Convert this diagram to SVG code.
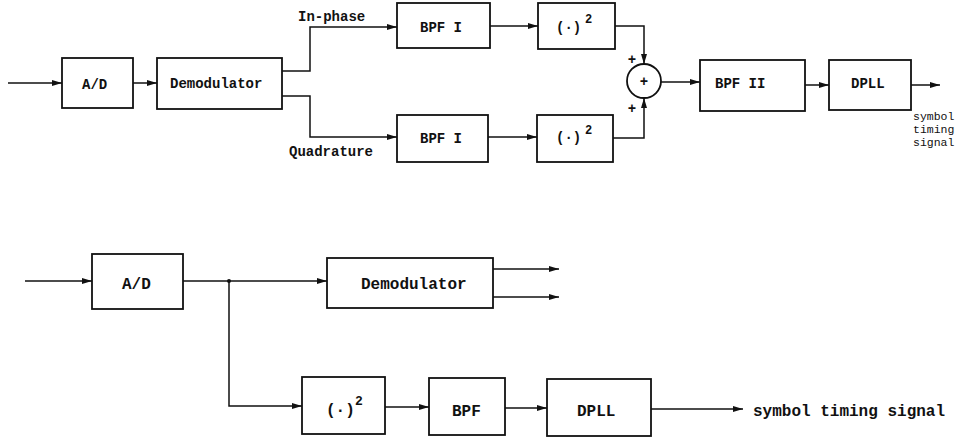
<svg xmlns="http://www.w3.org/2000/svg" width="967" height="441" viewBox="0 0 967 441">
<style>
.box{fill:none;stroke:#111;stroke-width:1.8}
.ln{fill:none;stroke:#111;stroke-width:1.5}
.t{font-family:"Liberation Mono","DejaVu Sans Mono",monospace;font-size:14px;font-weight:bold;fill:#111}
.tb{font-family:"Liberation Mono","DejaVu Sans Mono",monospace;font-size:16px;font-weight:bold;fill:#111}
.ts{font-family:"Liberation Mono","DejaVu Sans Mono",monospace;font-size:11.5px;fill:#111}
.sup{font-size:12px}
</style>
<defs>
<marker id="ah" viewBox="0 0 10 6" refX="10" refY="3" markerWidth="10" markerHeight="6" markerUnits="userSpaceOnUse" orient="auto">
<path d="M0,0 L10,3 L0,6 z" fill="#111"/>
</marker>
</defs>
<rect width="967" height="441" fill="#fff"/>

<!-- Top diagram nodes -->
<g id="top-ad"><rect class="box" x="62" y="58" width="71" height="50"/><text class="t" x="82" y="89">A/D</text></g>
<g id="top-demod"><rect class="box" x="157" y="58" width="125" height="51"/><text class="t" x="170" y="88">Demodulator</text></g>
<g id="top-bpf1a"><rect class="box" x="397" y="3" width="93" height="45"/><text class="t" x="420" y="32">BPF I</text></g>
<g id="top-bpf1b"><rect class="box" x="397" y="115" width="91" height="47"/><text class="t" x="420" y="143">BPF I</text></g>
<g id="top-sqa"><rect class="box" x="538" y="3" width="77" height="46"/><text class="t" x="556" y="32">(·)</text><text class="t sup" x="585" y="23">2</text></g>
<g id="top-sqb"><rect class="box" x="537" y="115" width="76" height="47"/><text class="t" x="556" y="142">(·)</text><text class="t sup" x="585" y="134">2</text></g>
<g id="top-sum"><circle class="box" cx="644" cy="81" r="17"/><text class="t" x="644" y="86" text-anchor="middle">+</text></g>
<g id="top-bpf2"><rect class="box" x="700" y="60" width="105" height="51"/><text class="t" x="715" y="88">BPF II</text></g>
<g id="top-dpll"><rect class="box" x="829" y="60" width="82" height="50"/><text class="t" x="851" y="88">DPLL</text></g>

<!-- Bottom diagram nodes -->
<g id="bot-ad"><rect class="box" x="92" y="254" width="91" height="55"/><text class="tb" x="122" y="289">A/D</text></g>
<g id="bot-demod"><rect class="box" x="327" y="258" width="166" height="50"/><text class="tb" x="361" y="289">Demodulator</text></g>
<g id="bot-sq"><rect class="box" x="302" y="377" width="83" height="57"/><text class="tb" x="326" y="415">(·)</text><text class="tb sup" x="355" y="405" style="font-size:13px">2</text></g>
<g id="bot-bpf"><rect class="box" x="429" y="378" width="76" height="57"/><text class="tb" x="452" y="416">BPF</text></g>
<g id="bot-dpll"><rect class="box" x="547" y="379" width="104" height="57"/><text class="tb" x="577" y="416">DPLL</text></g>

<!-- Connectors -->
<g id="connectors">
<line class="ln" x1="8" y1="83" x2="62" y2="83" marker-end="url(#ah)"/>
<line class="ln" x1="133" y1="83" x2="157" y2="83" marker-end="url(#ah)"/>
<polyline class="ln" points="282,71 310,71 310,27 397,27" marker-end="url(#ah)"/>
<polyline class="ln" points="282,96 310,96 310,137 397,137" marker-end="url(#ah)"/>
<line class="ln" x1="490" y1="26" x2="538" y2="26" marker-end="url(#ah)"/>
<line class="ln" x1="488" y1="137" x2="537" y2="137" marker-end="url(#ah)"/>
<polyline class="ln" points="615,26 644,26 644,64" marker-end="url(#ah)"/>
<polyline class="ln" points="613,138 644,138 644,98" marker-end="url(#ah)"/>
<line class="ln" x1="661" y1="82" x2="700" y2="82" marker-end="url(#ah)"/>
<line class="ln" x1="805" y1="85" x2="829" y2="85" marker-end="url(#ah)"/>
<line class="ln" x1="911" y1="85" x2="940" y2="85" marker-end="url(#ah)"/>

<line class="ln" x1="25" y1="281" x2="92" y2="281" marker-end="url(#ah)"/>
<line class="ln" x1="183" y1="281" x2="327" y2="281" marker-end="url(#ah)"/>
<circle cx="229" cy="281" r="2" fill="#111"/>
<polyline class="ln" points="229,281 229,406 302,406" marker-end="url(#ah)"/>
<line class="ln" x1="493" y1="269" x2="559" y2="269" marker-end="url(#ah)"/>
<line class="ln" x1="493" y1="297" x2="559" y2="297" marker-end="url(#ah)"/>
<line class="ln" x1="385" y1="407" x2="429" y2="407" marker-end="url(#ah)"/>
<line class="ln" x1="505" y1="408" x2="547" y2="408" marker-end="url(#ah)"/>
<line class="ln" x1="651" y1="409" x2="743" y2="409" marker-end="url(#ah)"/>
</g>

<!-- Labels -->
<text class="t" x="298" y="21">In-phase</text>
<text class="t" x="289" y="156">Quadrature</text>
<text class="t" x="632" y="64" text-anchor="middle">+</text>
<text class="t" x="632" y="113" text-anchor="middle">+</text>
<text class="ts" x="913" y="120">symbol</text>
<text class="ts" x="913" y="133">timing</text>
<text class="ts" x="913" y="146">signal</text>
<text class="tb" x="753" y="416">symbol timing signal</text>
</svg>
